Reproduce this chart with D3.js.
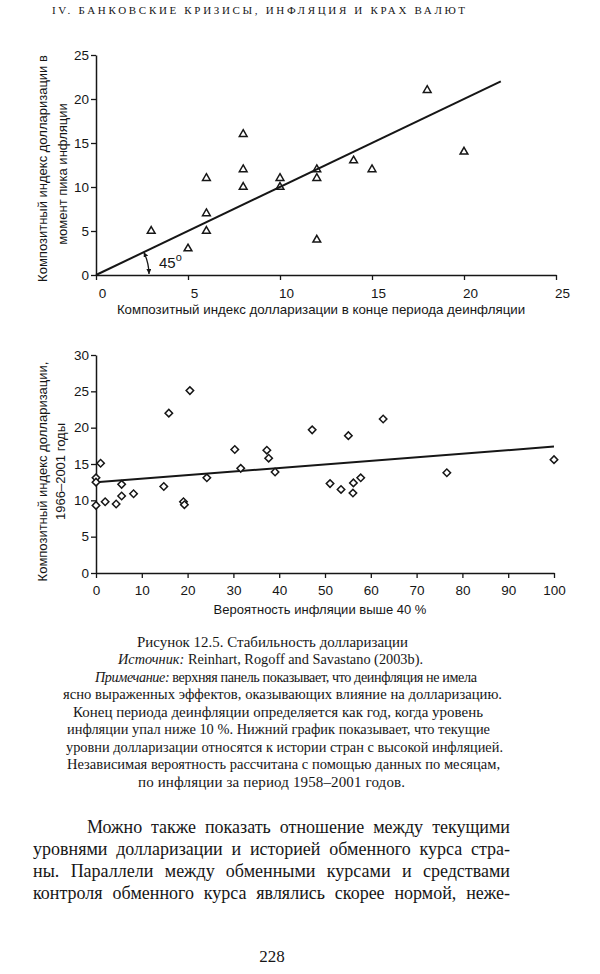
<!DOCTYPE html>
<html>
<head>
<meta charset="utf-8">
<script src="https://cdn.jsdelivr.net/npm/d3@7"></script>
<style>
  body { margin: 0; background: #fff; }
  svg { display: block; }
  .sans { font-family: "Liberation Sans", Arial, sans-serif; }
  .serif { font-family: "Liberation Serif", "Times New Roman", serif; }
</style>
</head>
<body>
<svg id="page" width="600" height="974"></svg>
<script>
// верхний график: индекс в конце дезинфляции / в пик инфляции
const topX = [3, 5, 6, 6, 6, 8, 8, 8, 10, 10, 12, 12, 12, 14, 15, 18, 20];
const topY = [5, 3, 5, 7, 11, 10, 12, 16, 11, 10, 12, 11, 4, 13, 12, 21, 14];
const topFitX = [0, 22];
const topFitY = [0, 22];
const topTicks = [0, 5, 10, 15, 20, 25];

// нижний график: вероятность инфляции выше 40% / индекс 1966-2001
const botX = [0, 0, 0, 1, 2, 4.4, 5.6, 5.6, 8.2, 14.8, 15.9, 19.1, 19.3, 20.5, 24.2,
  30.3, 31.6, 37.3, 37.7, 39.1, 47.2, 51.1, 53.5, 55.1, 56.2, 56.1, 57.8, 62.7, 76.6, 100];
const botY = [13.1, 12.5, 9.3, 15.1, 9.8, 9.5, 10.6, 12.2, 10.9, 11.9, 22, 9.8, 9.4, 25.1, 13.1,
  17, 14.4, 16.9, 15.8, 13.9, 19.7, 12.3, 11.5, 18.9, 12.4, 11, 13.1, 21.2, 13.8, 15.6];
const botFitX = [0, 100];
const botFitY = [12.5, 17.4];
const botXTicks = [0, 10, 20, 30, 40, 50, 60, 70, 80, 90, 100];
const botYTicks = [0, 5, 10, 15, 20, 25, 30];

const header = "IV. БАНКОВСКИЕ КРИЗИСЫ, ИНФЛЯЦИЯ И КРАХ ВАЛЮТ";

const captionLines = [
  [["", "Рисунок 12.5. Стабильность долларизации"]],
  [["i", "Источник:"], ["", " Reinhart, Rogoff and Savastano (2003b)."]],
  [["i", "Примечание:"], ["", " верхняя панель показывает, что деинфляция не имела"]],
  [["", "ясно выраженных эффектов, оказывающих влияние на долларизацию."]],
  [["", "Конец периода деинфляции определяется как год, когда уровень"]],
  [["", "инфляции упал ниже 10 %. Нижний график показывает, что текущие"]],
  [["", "уровни долларизации относятся к истории стран с высокой инфляцией."]],
  [["", "Независимая вероятность рассчитана с помощью данных по месяцам,"]],
  [["", "по инфляции за период 1958–2001 годов."]]
];
// начало и конец каждой строки подписи
const captionSpan = [[137, 408], [118, 423], [95, 477], [63, 502], [73, 483],
  [67, 490], [66, 503], [67, 500], [138, 405]];

const bodyLines = [
  "Можно также показать отношение между текущими",
  "уровнями долларизации и историей обменного курса стра-",
  "ны. Параллели между обменными курсами и средствами",
  "контроля обменного курса являлись скорее нормой, неже-"
];

const ink = "#161616";
const svg = d3.select('#page');

// заголовок страницы
svg.append('text')
  .attr('class', 'serif')
  .attr('x', 52).attr('y', 14)
  .attr('font-size', 11)
  .attr('textLength', 413).attr('lengthAdjust', 'spacing')
  .attr('fill', ink)
  .text(header);

// стиль осей
function styleAxis(g, fs) {
  g.attr('font-family', '"Liberation Sans", Arial, sans-serif').attr('font-size', fs);
  g.select('.domain').attr('stroke', ink).attr('stroke-width', 1.5);
  g.selectAll('.tick line').attr('stroke', ink).attr('stroke-width', 1.3);
  g.selectAll('.tick text').attr('fill', ink);
}

// ---------- верхний график ----------
const tx = d3.scaleLinear().domain([0, 25]).range([96, 556]);
const ty = d3.scaleLinear().domain([0, 25]).range([275, 55]);

const topG = svg.append('g');

topG.append('g')
  .attr('transform', `translate(0,${ty(0)})`)
  .call(d3.axisBottom(tx).tickValues(topTicks).tickSize(5).tickSizeOuter(0).tickPadding(8))
  .call(g => styleAxis(g, 13.5))
  .call(g => g.selectAll('.tick text').attr('dx', 6));

topG.append('g')
  .attr('transform', `translate(${tx(0)},0)`)
  .call(d3.axisLeft(ty).tickValues(topTicks).tickSize(5).tickSizeOuter(0).tickPadding(2))
  .call(g => styleAxis(g, 13.5));

topG.append('line')
  .attr('x1', tx(topFitX[0])).attr('y1', ty(topFitY[0]))
  .attr('x2', tx(topFitX[1])).attr('y2', ty(topFitY[1]))
  .attr('stroke', ink).attr('stroke-width', 2);

const tri = d3.symbol(d3.symbolTriangle, 26);
topG.selectAll('path.tri')
  .data(topX.map((x, i) => [x, topY[i]]))
  .join('path')
  .attr('class', 'tri')
  .attr('d', tri)
  .attr('transform', d => `translate(${tx(d[0])},${ty(d[1])})`)
  .attr('fill', 'none')
  .attr('stroke', ink)
  .attr('stroke-width', 1.5);

// дуга 45°
const defs = svg.append('defs');
defs.append('marker')
  .attr('id', 'arr')
  .attr('viewBox', '0 0 6 6')
  .attr('refX', 6).attr('refY', 3)
  .attr('markerWidth', 5).attr('markerHeight', 5)
  .attr('markerUnits', 'userSpaceOnUse')
  .attr('orient', 'auto-start-reverse')
  .append('path').attr('d', 'M0,0L6,3L0,6Z').attr('fill', ink);

const cx = tx(0), cy = ty(0), r = 53;
const ang = Math.atan2(ty(0) - ty(topFitY[1]), tx(topFitX[1]) - tx(0));
topG.append('path')
  .attr('d', `M${cx + r},${cy - 1}A${r},${r} 0 0 0 ${cx + r * Math.cos(ang)},${cy - r * Math.sin(ang)}`)
  .attr('fill', 'none').attr('stroke', ink).attr('stroke-width', 1.3)
  .attr('marker-start', 'url(#arr)').attr('marker-end', 'url(#arr)');

const deg = topG.append('text')
  .attr('class', 'sans')
  .attr('x', cx + 63).attr('y', cy - 7)
  .attr('font-size', 15).attr('fill', ink)
  .text('45');
deg.append('tspan').attr('dy', -7).attr('font-size', 11).text('o');

// подписи осей
topG.append('text')
  .attr('class', 'sans')
  .attr('x', 321).attr('y', 314)
  .attr('text-anchor', 'middle').attr('font-size', 13.3).attr('fill', ink)
  .text('Композитный индекс долларизации в конце периода деинфляции');

topG.append('text')
  .attr('class', 'sans')
  .attr('transform', 'translate(47,168.5) rotate(-90)')
  .attr('text-anchor', 'middle').attr('font-size', 13).attr('fill', ink)
  .text('Композитный индекс долларизации в');
topG.append('text')
  .attr('class', 'sans')
  .attr('transform', 'translate(67,174) rotate(-90)')
  .attr('text-anchor', 'middle').attr('font-size', 13).attr('fill', ink)
  .text('момент пика инфляции');

// ---------- нижний график ----------
const bx = d3.scaleLinear().domain([0, 100]).range([96, 554]);
const by = d3.scaleLinear().domain([0, 30]).range([573, 355]);

const botG = svg.append('g');

botG.append('g')
  .attr('transform', `translate(0,${by(0)})`)
  .call(d3.axisBottom(bx).tickValues(botXTicks).tickSize(5).tickSizeOuter(0).tickPadding(7))
  .call(g => styleAxis(g, 13.5));

botG.append('g')
  .attr('transform', `translate(${bx(0)},0)`)
  .call(d3.axisLeft(by).tickValues(botYTicks).tickSize(5).tickSizeOuter(0).tickPadding(2))
  .call(g => styleAxis(g, 13.5));

botG.append('line')
  .attr('x1', bx(botFitX[0])).attr('y1', by(botFitY[0]))
  .attr('x2', bx(botFitX[1])).attr('y2', by(botFitY[1]))
  .attr('stroke', ink).attr('stroke-width', 2);

const dia = d3.symbol(d3.symbolSquare, 28);
botG.selectAll('path.dia')
  .data(botX.map((x, i) => [x, botY[i]]))
  .join('path')
  .attr('class', 'dia')
  .attr('d', dia)
  .attr('transform', d => `translate(${bx(d[0])},${by(d[1])}) rotate(45)`)
  .attr('fill', '#fff')
  .attr('stroke', ink)
  .attr('stroke-width', 1.5);

botG.append('text')
  .attr('class', 'sans')
  .attr('x', 320).attr('y', 614)
  .attr('text-anchor', 'middle').attr('font-size', 13).attr('fill', ink)
  .text('Вероятность инфляции выше 40 %');

botG.append('text')
  .attr('class', 'sans')
  .attr('transform', 'translate(47,471.5) rotate(-90)')
  .attr('text-anchor', 'middle').attr('font-size', 13).attr('fill', ink)
  .text('Композитный индекс долларизации,');
botG.append('text')
  .attr('class', 'sans')
  .attr('transform', 'translate(65,471.5) rotate(-90)')
  .attr('text-anchor', 'middle').attr('font-size', 13).attr('fill', ink)
  .text('1966–2001 годы');

// ---------- подпись к рисунку ----------
// если строка шире нужного, немного уменьшаем шрифт, остальное подгоняет textLength
captionLines.forEach((parts, i) => {
  const target = captionSpan[i][1] - captionSpan[i][0];
  const t = svg.append('text')
    .attr('class', 'serif')
    .attr('x', captionSpan[i][0])
    .attr('y', 646.7 + i * 17.5)
    .attr('font-size', 15)
    .attr('fill', ink);
  parts.forEach(p => {
    t.append('tspan')
      .attr('font-style', p[0] === 'i' ? 'italic' : null)
      .text(p[1]);
  });
  const w = t.node().getComputedTextLength();
  if (w > target) t.attr('font-size', Math.max(14.2, 15 * target / w));
  t.attr('textLength', target).attr('lengthAdjust', 'spacing');
});

// ---------- основной текст, выровненный по ширине ----------
function justify(words, x0, x1, y) {
  const t = svg.append('text')
    .attr('class', 'serif')
    .attr('y', y).attr('font-size', 18).attr('fill', ink);
  const spans = words.map(w => t.append('tspan').text(w));
  const widths = spans.map(s => s.node().getComputedTextLength());
  const gap = (x1 - x0 - d3.sum(widths)) / (words.length - 1);
  let x = x0;
  spans.forEach((s, i) => { s.attr('x', x); x += widths[i] + gap; });
}

const bodyBase = [833, 855, 877, 899];
bodyLines.forEach((line, i) => {
  justify(line.split(' '), i === 0 ? 87 : 33, 510, bodyBase[i]);
});

// номер страницы
svg.append('text')
  .attr('class', 'serif')
  .attr('x', 272).attr('y', 962)
  .attr('text-anchor', 'middle').attr('font-size', 17).attr('fill', ink)
  .text('228');
</script>
</body>
</html>
